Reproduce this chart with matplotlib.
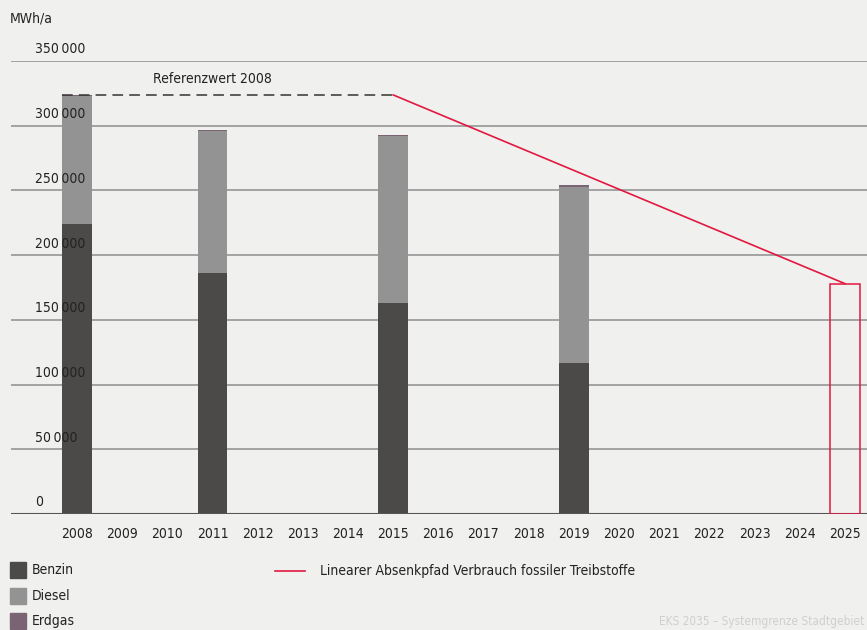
import matplotlib
matplotlib.use('Agg')
import matplotlib.pyplot as plt
import numpy as np

plt.rcParams['font.family'] = ['DejaVu Sans']
plt.rcParams['font.stretch'] = 'condensed'

# data
years = list(range(2008, 2026))
data_years = [2008, 2011, 2015, 2019]
benzin = [224100, 186200, 163000, 116700]
diesel = [98900, 109600, 128900, 136100]
erdgas = [800, 1000, 1000, 1500]
ref_year, ref_end_year = 2008, 2015
target_year = 2025
target_value = 178000
y_ticks = [0, 50000, 100000, 150000, 200000, 250000, 300000, 350000]
y_labels = ['0', '50\u2009000', '100\u2009000', '150\u2009000', '200\u2009000',
            '250\u2009000', '300\u2009000', '350\u2009000']

c_benzin = '#4b4a48'
c_diesel = '#939393'
c_erdgas = '#7a6473'
c_red = '#e2183f'
bg = '#f0f0ef'
fs = 10

W, H = 867, 630
fig = plt.figure(figsize=(W / 100, H / 100), dpi=100, facecolor=bg)
ax = fig.add_axes([11 / W, 116 / H, (W - 11) / W, (514 - 61) / H], facecolor=bg)

ax.set_xlim(2008 - 1.46, 2025 + 0.49)
ax.set_ylim(0, 350000)

# grid lines
for t in y_ticks[1:]:
    ax.axhline(t, color='#8e8e8e', lw=1.1, zorder=0)
ax.axhline(0, color='#555555', lw=1.5, zorder=3)

# y tick labels sit above the grid lines
for t, lab in zip(y_ticks, y_labels):
    ax.text(2008 - 1.46 + 24 / 45.2, t + 3500, lab, ha='left', va='bottom',
            fontsize=fs, color='#222222')

bw = 0.66
b = np.array(benzin)
d = np.array(diesel)
e = np.array(erdgas)
ax.bar(data_years, b, width=bw, color=c_benzin, zorder=2)
ax.bar(data_years, d, width=bw, bottom=b, color=c_diesel, zorder=2)
ax.bar(data_years, e, width=bw, bottom=b + d, color=c_erdgas, zorder=2)

# reference value and linear path
ref_value = benzin[0] + diesel[0] + erdgas[0]
ax.plot([ref_year - bw / 2, ref_end_year], [ref_value, ref_value],
        color='#333333', lw=1.1, dashes=(7, 4), zorder=4)
ax.text(2011.0, ref_value + 6500, 'Referenzwert 2008', ha='center', va='bottom',
        fontsize=fs, color='#222222')
ax.plot([ref_end_year, target_year], [ref_value, target_value],
        color=c_red, lw=1.2, zorder=4)
ax.bar([target_year], [target_value], width=bw, facecolor='none',
       edgecolor=c_red, lw=1.1, zorder=4)

ax.set_xticks(years)
ax.set_xticklabels([str(y) for y in years], fontsize=fs, color='#222222')
ax.tick_params(axis='x', length=0, pad=9)
ax.set_yticks([])
for s in ax.spines.values():
    s.set_visible(False)

fig.text(10 / W, 1 - 18 / H, 'MWh/a', ha='left', va='center', fontsize=fs,
         color='#222222')

# legend
for i, (lab, c) in enumerate([('Benzin', c_benzin), ('Diesel', c_diesel),
                               ('Erdgas', c_erdgas)]):
    yc = 570 + i * 25.5
    fig.patches.append(plt.Rectangle((10 / W, 1 - (yc + 8) / H), 16 / W, 16 / H,
                                     transform=fig.transFigure, color=c))
    fig.text(32 / W, 1 - yc / H, lab, ha='left', va='center', fontsize=fs,
             color='#222222')
fig.add_artist(plt.Line2D([275 / W, 305 / W], [1 - 571 / H, 1 - 571 / H],
                          color=c_red, lw=1.2, transform=fig.transFigure))
fig.text(320 / W, 1 - 571 / H, 'Linearer Absenkpfad Verbrauch fossiler Treibstoffe',
         ha='left', va='center', fontsize=fs, color='#222222')
fig.text(864 / W, 1 - 622 / H, 'EKS 2035 \u2013 Systemgrenze Stadtgebiet',
         ha='right', va='center', fontsize=8.5, color='#cfcfcf')

fig.savefig('out.png', dpi=100, facecolor=bg)
